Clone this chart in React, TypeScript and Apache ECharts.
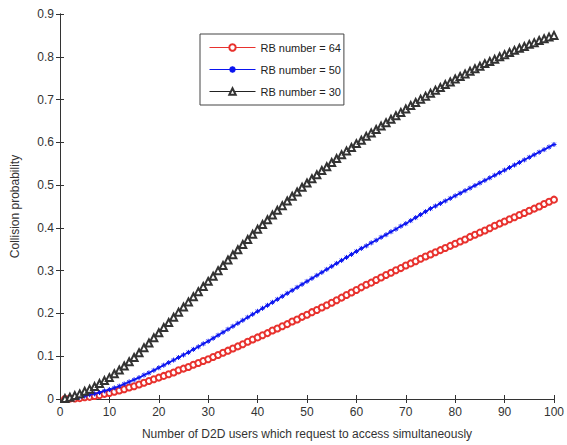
import React, { useEffect, useRef } from "react";
import * as echarts from "echarts";

const xValues: number[] = Array.from({ length: 100 }, (_, i) => i + 1);

const rb64: number[] = [
  0, 0.001, 0.001, 0.002, 0.004, 0.005, 0.007, 0.009, 0.012, 0.014,
  0.017, 0.02, 0.023, 0.027, 0.03, 0.034, 0.038, 0.042, 0.046, 0.05,
  0.054, 0.058, 0.062, 0.067, 0.071, 0.075, 0.08, 0.084, 0.089, 0.093,
  0.098, 0.103, 0.108, 0.113, 0.118, 0.123, 0.128, 0.134, 0.139, 0.144,
  0.149, 0.154, 0.16, 0.165, 0.17, 0.175, 0.181, 0.186, 0.192, 0.197,
  0.203, 0.208, 0.214, 0.219, 0.225, 0.231, 0.237, 0.243, 0.249, 0.255,
  0.261, 0.267, 0.272, 0.278, 0.284, 0.29, 0.295, 0.301, 0.306, 0.312,
  0.317, 0.322, 0.328, 0.333, 0.338, 0.343, 0.348, 0.353, 0.358, 0.363,
  0.368, 0.373, 0.379, 0.384, 0.389, 0.394, 0.399, 0.405, 0.41, 0.415,
  0.42, 0.425, 0.43, 0.435, 0.44, 0.445, 0.45, 0.456, 0.461, 0.466,
];

const rb50: number[] = [
  0, 0.001, 0.003, 0.005, 0.007, 0.01, 0.012, 0.015, 0.019, 0.022,
  0.026, 0.03, 0.035, 0.04, 0.045, 0.05, 0.056, 0.061, 0.067, 0.073,
  0.079, 0.085, 0.091, 0.097, 0.103, 0.109, 0.116, 0.122, 0.129, 0.135,
  0.142, 0.149, 0.156, 0.163, 0.17, 0.177, 0.184, 0.191, 0.198, 0.205,
  0.212, 0.219, 0.226, 0.233, 0.24, 0.247, 0.254, 0.261, 0.268, 0.275,
  0.282, 0.289, 0.296, 0.303, 0.31, 0.317, 0.324, 0.331, 0.338, 0.345,
  0.352, 0.358, 0.365, 0.371, 0.378, 0.384, 0.391, 0.397, 0.404, 0.41,
  0.417, 0.424, 0.431, 0.438, 0.445, 0.451, 0.457, 0.463, 0.469, 0.475,
  0.481, 0.487, 0.493, 0.499, 0.505, 0.511, 0.517, 0.523, 0.529, 0.535,
  0.541, 0.547, 0.553, 0.559, 0.565, 0.571, 0.577, 0.583, 0.589, 0.595,
];

const rb30: number[] = [
  0.001, 0.004, 0.008, 0.012, 0.018, 0.023, 0.029, 0.036, 0.043, 0.05,
  0.059, 0.068, 0.077, 0.087, 0.097, 0.108, 0.12, 0.131, 0.143, 0.155,
  0.167, 0.179, 0.191, 0.203, 0.215, 0.227, 0.239, 0.251, 0.263, 0.275,
  0.287, 0.3, 0.312, 0.325, 0.337, 0.349, 0.361, 0.373, 0.385, 0.397,
  0.408, 0.419, 0.43, 0.441, 0.452, 0.463, 0.474, 0.484, 0.495, 0.505,
  0.515, 0.524, 0.534, 0.543, 0.553, 0.562, 0.571, 0.58, 0.588, 0.597,
  0.605, 0.614, 0.622, 0.63, 0.638, 0.646, 0.654, 0.662, 0.67, 0.678,
  0.686, 0.693, 0.701, 0.708, 0.715, 0.722, 0.728, 0.735, 0.741, 0.748,
  0.754, 0.76, 0.766, 0.772, 0.778, 0.784, 0.789, 0.794, 0.8, 0.805,
  0.81, 0.815, 0.82, 0.824, 0.829, 0.833, 0.838, 0.842, 0.846, 0.85,
];

const seriesNames: string[] = ["RB number = 64", "RB number = 50", "RB number = 30"];
const xAxisName = "Number of D2D users which request to access simultaneously";
const yAxisName = "Collision probability";

const FONT = "Liberation Sans, Arial, sans-serif";
const starPath = "path://M5,0L5,10M0,5L10,5M1.5,1.5L8.5,8.5M1.5,8.5L8.5,1.5";

export default function App() {
  const ref = useRef<HTMLDivElement>(null);
  useEffect(() => {
    if (!ref.current) return;
    const chart = echarts.init(ref.current, null, { renderer: "svg" });
    const pair = (ys: number[]) => xValues.map((x, i) => [x, ys[i]]);
    const axisLine = { show: true, lineStyle: { color: "#333", width: 1 } };
    const tick = { show: true, inside: true, length: 4, lineStyle: { color: "#333" } };
    chart.setOption({
      animation: false,
      backgroundColor: "#fff",
      grid: { left: 60, right: 11, top: 14, bottom: 41, containLabel: false },
      legend: {
        data: seriesNames,
        orient: "vertical",
        left: 200,
        top: 34,
        itemWidth: 46,
        itemHeight: 8,
        itemGap: 9,
        padding: [7, 3, 7, 9],
        borderColor: "#444",
        borderWidth: 1,
        borderRadius: 0,
        backgroundColor: "#fff",
        lineStyle: { width: 1 },
        textStyle: { fontFamily: FONT, fontSize: 11, color: "#222", lineHeight: 13 },
      },
      xAxis: [
        {
          type: "value",
          min: 0,
          max: 100,
          interval: 10,
          position: "bottom",
          name: xAxisName,
          nameLocation: "middle",
          nameGap: 29,
          nameTextStyle: { fontFamily: FONT, fontSize: 12, color: "#333" },
          axisLine,
          axisTick: tick,
          axisLabel: { fontFamily: FONT, fontSize: 12, color: "#333", margin: 7 },
          splitLine: { show: false },
        },
        {
          type: "value",
          min: 0,
          max: 100,
          interval: 10,
          position: "top",
          axisLine,
          axisTick: tick,
          axisLabel: { show: false },
          splitLine: { show: false },
        },
      ],
      yAxis: [
        {
          type: "value",
          min: 0,
          max: 0.9,
          interval: 0.1,
          position: "left",
          name: yAxisName,
          nameLocation: "middle",
          nameGap: 39,
          nameTextStyle: { fontFamily: FONT, fontSize: 12, color: "#333" },
          axisLine,
          axisTick: tick,
          axisLabel: {
            fontFamily: FONT,
            fontSize: 12,
            color: "#333",
            margin: 6,
            formatter: (v: number) => String(Math.round(v * 10) / 10),
          },
          splitLine: { show: false },
        },
        {
          type: "value",
          min: 0,
          max: 0.9,
          interval: 0.1,
          position: "right",
          axisLine,
          axisTick: tick,
          axisLabel: { show: false },
          splitLine: { show: false },
        },
      ],
      series: [
        {
          name: seriesNames[0],
          type: "line",
          data: pair(rb64),
          symbol: "emptyCircle",
          symbolSize: 6,
          showAllSymbol: true,
          lineStyle: { color: "#e8322e", width: 1 },
          itemStyle: { color: "#e8322e", borderColor: "#e8322e", borderWidth: 1 },
          z: 3,
        },
        {
          name: seriesNames[1],
          type: "line",
          data: pair(rb50),
          symbol: starPath,
          symbolSize: 5,
          showAllSymbol: true,
          lineStyle: { color: "#0a14f0", width: 1.5 },
          itemStyle: { color: "#0a14f0", borderColor: "#0a14f0", borderWidth: 1 },
          z: 4,
        },
        {
          name: seriesNames[2],
          type: "line",
          data: pair(rb30),
          symbol: "emptyTriangle",
          symbolSize: 7,
          showAllSymbol: true,
          lineStyle: { color: "#222", width: 1 },
          itemStyle: { color: "#333", borderColor: "#333", borderWidth: 1 },
          z: 5,
        },
      ],
    });
    return () => chart.dispose();
  }, []);
  return <div ref={ref} style={{ width: 567, height: 445, position: "absolute", left: 0, top: 0 }} />;
}
